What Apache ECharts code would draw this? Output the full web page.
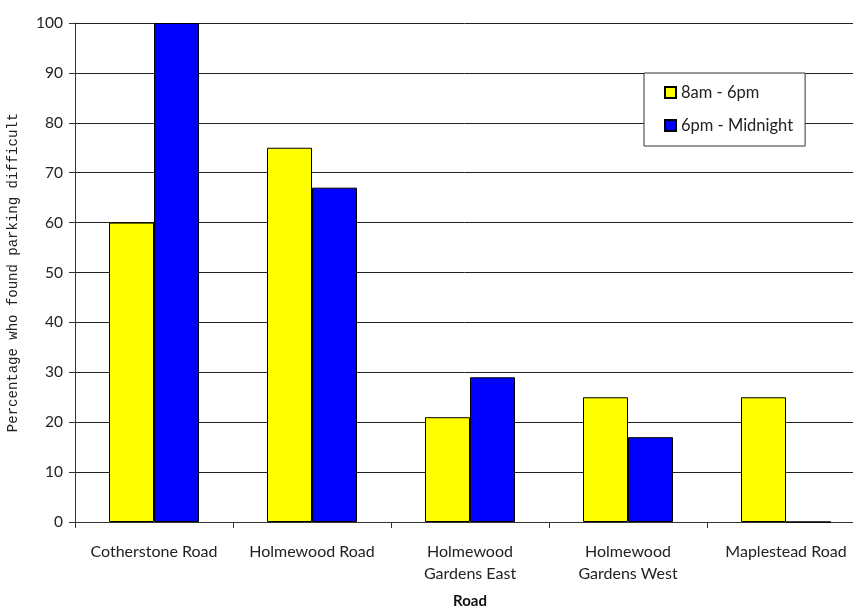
<!DOCTYPE html>
<html>
<head>
<meta charset="utf-8">
<script src="https://cdn.jsdelivr.net/npm/echarts@6/dist/echarts.min.js"></script>
<style>
  html, body { margin: 0; padding: 0; background: #fff; }
  #chart { width: 853px; height: 608px; }
</style>
</head>
<body>
<div id="chart"></div>
<script>
// Roads surveyed
const roads = ['Cotherstone Road', 'Holmewood Road', 'Holmewood\nGardens East', 'Holmewood\nGardens West', 'Maplestead Road'];
// Percentage who found parking difficult, by time of day
const daytime = [60, 75, 21, 25, 25];
const evening = [100, 67, 29, 17, 0];
const seriesNames = ['8am - 6pm', '6pm - Midnight'];
const yTicks = { min: 0, max: 100, step: 10 };

const labelFont = 'Lato, "Open Sans", sans-serif';
const chart = echarts.init(document.getElementById('chart'), null, { renderer: 'canvas' });

chart.setOption({
  animation: false,
  backgroundColor: '#ffffff',
  grid: { left: 75, right: -12, top: 23, bottom: 86, containLabel: false, outerBoundsMode: 'none' },
  legend: {
    data: seriesNames,
    orient: 'vertical',
    left: 644,
    top: 73,
    padding: [11, 12, 12, 20],
    itemGap: 16,
    itemWidth: 11,
    itemHeight: 11,
    backgroundColor: '#ffffff',
    borderColor: '#333333',
    borderWidth: 1,
    textStyle: { fontFamily: labelFont, fontSize: 16.5, color: '#222222' },
    icon: 'rect'
  },
  xAxis: {
    type: 'category',
    data: roads,
    name: 'Road',
    nameLocation: 'middle',
    nameGap: 72,
    nameTextStyle: { fontFamily: labelFont, fontSize: 15, fontWeight: 'bold', color: '#111111' },
    axisLine: { lineStyle: { color: '#333333', width: 1 } },
    axisTick: { show: true, length: 6, inside: false, alignWithLabel: false, lineStyle: { color: '#333333' } },
    axisLabel: { fontFamily: labelFont, fontSize: 16, color: '#222222', margin: 19, lineHeight: 22, interval: 0 },
    splitLine: { show: false }
  },
  yAxis: {
    type: 'value',
    min: yTicks.min,
    max: yTicks.max,
    interval: yTicks.step,
    name: 'Percentage who found parking difficult',
    nameLocation: 'middle',
    nameGap: 55,
    nameTextStyle: { fontFamily: '"Liberation Mono", "DejaVu Sans Mono", monospace', fontSize: 14, color: '#222222' },
    axisLine: { show: true, lineStyle: { color: '#333333', width: 1 } },
    axisTick: { show: true, length: 6, lineStyle: { color: '#333333' } },
    axisLabel: { fontFamily: labelFont, fontSize: 15.5, color: '#222222', margin: 12 },
    splitLine: { show: true, lineStyle: { color: '#222222', width: 1 } }
  },
  series: [
    {
      name: seriesNames[0],
      type: 'bar',
      data: daytime,
      barWidth: 45,
      barGap: '0%',
      barCategoryGap: '42%',
      itemStyle: { color: '#ffff00', borderColor: '#000000', borderWidth: 1 }
    },
    {
      name: seriesNames[1],
      type: 'bar',
      data: evening,
      barWidth: 45,
      barGap: '0%',
      itemStyle: { color: '#0000ff', borderColor: '#000000', borderWidth: 1 }
    }
  ]
});
</script>
</body>
</html>
